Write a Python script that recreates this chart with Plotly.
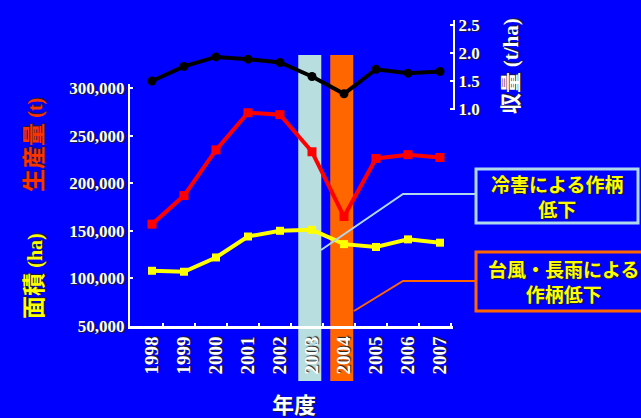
import plotly.graph_objects as go

# ---------------- data ----------------
years = ['1998', '1999', '2000', '2001', '2002', '2003', '2004', '2005', '2006', '2007']
production_t = [157000, 187000, 235000, 274000, 272000, 233000, 165000, 226000, 230000, 227000]
area_ha = [108000, 107000, 122000, 144000, 150000, 151000, 136000, 133000, 141000, 137500]
yield_t_ha = [1.50, 1.76, 1.93, 1.89, 1.83, 1.58, 1.27, 1.71, 1.64, 1.67]
left_ticks = [50000, 100000, 150000, 200000, 250000, 300000]
right_ticks = [1.0, 1.5, 2.0, 2.5]
band_years = ['2003', '2004']
band_colors = ['#B8DEE0', '#FF6600']
notes = ['冷害による作柄<br>低下', '台風・長雨による<br>作柄低下']
note_colors = ['#B0D8EC', '#FF6600']

W, H = 641, 418
BG = '#0000FF'


def px(x):
    return x / W


def py(y):
    return 1 - y / H


idx = list(range(len(years)))
SERIF = 'Liberation Serif, Times New Roman, serif'
CJK = 'Noto Sans CJK JP, sans-serif'
SHADOW = '1px 1px 1px #202020'

X_DOMAIN = [px(130), px(453)]
X_RANGE = [-0.6875, 9.406]


def x_paper(v):
    """Map a category index to paper coordinates through the x-axis scale."""
    return X_DOMAIN[0] + (v - X_RANGE[0]) / (X_RANGE[1] - X_RANGE[0]) * (X_DOMAIN[1] - X_DOMAIN[0])


fig = go.Figure()
fig.add_trace(go.Scatter(
    x=idx, y=area_ha, mode='lines+markers', yaxis='y',
    line=dict(color='#FFFF00', width=4),
    marker=dict(symbol='square', size=8, color='#FFFF00'),
    showlegend=False))
fig.add_trace(go.Scatter(
    x=idx, y=production_t, mode='lines+markers', yaxis='y',
    line=dict(color='#FF0000', width=4),
    marker=dict(symbol='square', size=9, color='#FF0000'),
    showlegend=False))
fig.add_trace(go.Scatter(
    x=idx, y=yield_t_ha, mode='lines+markers', yaxis='y2',
    line=dict(color='#000000', width=4),
    marker=dict(symbol='circle', size=9, color='#000000'),
    showlegend=False))

tickfont = dict(family=SERIF, size=17, color='white', weight='bold', shadow=SHADOW)

fig.update_layout(
    width=W, height=H,
    margin=dict(l=0, r=0, t=0, b=0, pad=0, autoexpand=False),
    paper_bgcolor=BG, plot_bgcolor='rgba(0,0,0,0)',
    xaxis=dict(
        domain=X_DOMAIN, range=X_RANGE, automargin=False,
        tickmode='array', tickvals=idx, ticktext=years, tickangle=-90,
        ticks='', showline=True, linecolor='white', linewidth=3,
        tickfont=dict(family=SERIF, size=19, color='white', weight='bold', shadow=SHADOW),
        minor=dict(tickmode='array', tickvals=[i + 0.35 for i in idx],
                   ticks='inside', ticklen=3, tickcolor='white', tickwidth=2),
        showgrid=False, zeroline=False, anchor='y'),
    yaxis=dict(
        domain=[py(326), py(84)], range=[50000, 304200], automargin=False,
        tickmode='array', tickvals=left_ticks, tickformat=',',
        showline=True, linecolor='white', linewidth=2,
        ticks='inside', ticklen=3, tickcolor='white', tickwidth=2,
        tickfont=tickfont, showgrid=False, zeroline=False, anchor='x'),
    yaxis2=dict(
        domain=[py(110), py(20)], range=[0.982, 2.589], automargin=False,
        tickmode='array', tickvals=right_ticks, tickformat='.1f',
        side='right', anchor='x',
        showline=True, linecolor='white', linewidth=2,
        ticks='inside', ticklen=3, tickcolor='white', tickwidth=2,
        tickfont=tickfont, showgrid=False, zeroline=False),
)

shapes = []
for yr, col in zip(band_years, band_colors):
    i = years.index(yr)
    shapes.append(dict(type='rect', xref='paper', yref='paper', x0=x_paper(i - 0.43), x1=x_paper(i + 0.29),
                       y0=py(381), y1=py(55), fillcolor=col, line=dict(width=0), layer='below'))

# note boxes
shapes.append(dict(type='rect', xref='paper', yref='paper', x0=px(476), x1=px(638),
                   y0=py(223), y1=py(169), line=dict(color=note_colors[0], width=3)))
shapes.append(dict(type='rect', xref='paper', yref='paper', x0=px(476), x1=px(660),
                   y0=py(311), y1=py(252), line=dict(color=note_colors[1], width=3)))
# connectors
shapes.append(dict(type='path', xref='paper', yref='paper',
                   path=f'M {px(321)},{py(250)} L {px(403)},{py(194)} L {px(476)},{py(194)}',
                   line=dict(color=note_colors[0], width=2)))
shapes.append(dict(type='path', xref='paper', yref='paper',
                   path=f'M {px(354)},{py(311)} L {px(403)},{py(281)} L {px(476)},{py(281)}',
                   line=dict(color=note_colors[1], width=2)))
fig.update_layout(shapes=shapes)

C = dict(xref='paper', yref='paper', showarrow=False, xanchor='center', yanchor='middle')
ann = []
ann.append(dict(C, x=px(557), y=py(196), text=notes[0], align='center',
                font=dict(family=CJK, size=19, color='#FFFF00', weight='bold', shadow=SHADOW)))
ann.append(dict(C, x=px(563), y=py(281), text=notes[1], align='center',
                font=dict(family=CJK, size=19, color='#FFFF00', weight='bold', shadow=SHADOW)))
# axis titles
ann.append(dict(C, x=px(32), y=py(145), textangle=-90,
                text='生産量 <span style="font-family:Liberation Serif;font-size:20px">(t)</span>',
                font=dict(family=CJK, size=23, color='#FF3300', weight='bold', shadow=SHADOW)))
ann.append(dict(C, x=px(32), y=py(276), textangle=-90,
                text='面積 <span style="font-family:Liberation Serif;font-size:20px">(ha)</span>',
                font=dict(family=CJK, size=23, color='#FFFF00', weight='bold', shadow=SHADOW)))
ann.append(dict(C, x=px(509), y=py(66), textangle=-90,
                text='収量 <span style="font-family:Liberation Serif;font-size:21px">(t/ha)</span>',
                font=dict(family=CJK, size=21, color='white', weight='bold', shadow=SHADOW)))
ann.append(dict(C, x=px(294), y=py(403), text='年度',
                font=dict(family=CJK, size=22, color='white', weight='bold', shadow=SHADOW)))
fig.update_layout(annotations=ann)

fig.write_html('out.html')
